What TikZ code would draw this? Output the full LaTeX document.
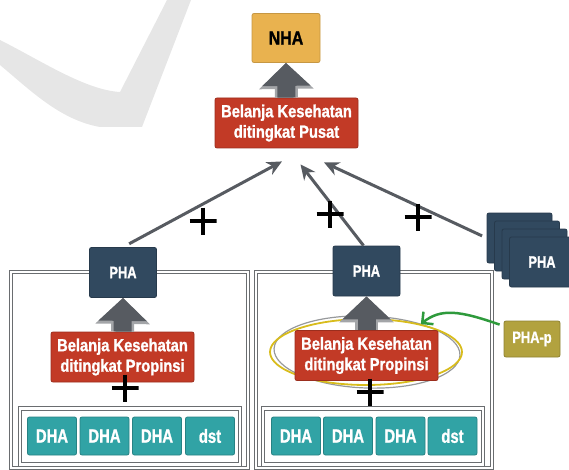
\documentclass[tikz,border=0pt]{standalone}
\usepackage{fontspec}
\setmainfont{Liberation Sans}
\newfontfamily\cond[FakeStretch=0.78, FakeBold=1.2]{Liberation Sans Bold}
\newfontfamily\condw[FakeStretch=0.84, FakeBold=1.2]{Liberation Sans Bold}
\usetikzlibrary{arrows.meta,calc,shapes.geometric}
\definecolor{nhaC}{HTML}{E9B24F}
\definecolor{redC}{HTML}{C23A26}
\definecolor{navyC}{HTML}{31495F}
\definecolor{tealC}{HTML}{31A3A5}
\definecolor{oliveC}{HTML}{B2A23F}
\definecolor{arrC}{HTML}{575B61}
\definecolor{lineC}{HTML}{6A6D70}
\definecolor{greenC}{HTML}{2E9A3C}
\definecolor{yelC}{HTML}{D8BC1C}
\definecolor{wmC}{HTML}{E6E6E6}
\tikzset{
  box/.style={rounded corners=2, inner sep=0, align=center, text=white,
    font=\cond\fontsize{16.5}{19.5}\selectfont, line width=0.8},
  nhabox/.style={box, fill=nhaC, draw=nhaC!85!black, text=black, minimum width=68, minimum height=49,
    font=\condw\fontsize{19}{21}\selectfont},
  redbox/.style={box, fill=redC, draw=redC!80!black, minimum width=143, minimum height=50,
    font=\condw\fontsize{17.5}{20.5}\selectfont},
  phabox/.style={box, fill=navyC, draw=navyC!80!black, minimum width=67, minimum height=50},
  dhabox/.style={box, fill=tealC, draw=tealC!80!black, minimum width=49, minimum height=38,
    font=\cond\fontsize{19}{21}\selectfont},
  phapbox/.style={box, fill=oliveC, draw=oliveC!80!black, minimum width=56, minimum height=36},
  cont/.style={draw=lineC, double=white, double distance=2.5, line width=1.1, inner sep=0},
  conn/.style={draw=arrC, line width=3, -{Stealth[length=15,width=14]}},
  blockback/.style={draw=arrC!55, line width=23, -{Triangle[width=53,length=26]}},
  blockarr/.style={draw=arrC, line width=18, -{Triangle[width=47,length=23]}},
  plusmark/.style={minimum size=27, inner sep=0, path picture={
    \draw[line width=4] (path picture bounding box.north) -- (path picture bounding box.south)
      (path picture bounding box.west) -- (path picture bounding box.east);}},
}
\begin{document}
\begin{tikzpicture}[x=1pt,y=-1pt]
\useasboundingbox (0,0) rectangle (569,470);
% watermark
\fill[wmC] (0,40) .. controls (40,60) and (85,90) .. (120,92) -- (167,0) -- (191,0) -- (142,127)
  -- (100,127) .. controls (60,120) and (30,90) .. (0,65) -- cycle;
% containers
\node[cont, minimum width=237, minimum height=196] (contL) at (129.5,370) {};
\node[cont, minimum width=236, minimum height=196] (contR) at (374,370) {};
\node[cont, fill=white, minimum width=220, minimum height=56] (barL) at (130,436.5) {};
\node[cont, fill=white, minimum width=220, minimum height=56] (barR) at (373,436.5) {};
% DHA boxes
\node[dhabox] (dL1) at (52,436) {DHA};
\node[dhabox] (dL2) at (104.5,436) {DHA};
\node[dhabox] (dL3) at (157,436) {DHA};
\node[dhabox] (dL4) at (210,436) {dst};
\node[dhabox] (dR1) at (296,436) {DHA};
\node[dhabox] (dR2) at (348,436) {DHA};
\node[dhabox] (dR3) at (400.5,436) {DHA};
\node[dhabox] (dR4) at (452.5,436) {dst};
% ellipse highlight
\node[ellipse, draw=lineC!70, line width=1.2, minimum width=186, minimum height=72, rotate=-2] (ell2) at (367,352) {};
\node[ellipse, draw=yelC, line width=1.8, minimum width=192, minimum height=66] (ell) at (366,352) {};
% main boxes
\node[nhabox] (nha) at (286,38) {NHA};
\node[redbox] (pusat) at (286.5,123) {Belanja Kesehatan\\ditingkat Pusat};
\node[phabox] (phaL) at (123,272.5) {PHA};
\node[phabox] (phaR) at (366.5,271) {PHA};
\node[redbox] (propL) at (122.5,357) {Belanja Kesehatan\\ditingkat Propinsi};
\node[redbox] (propR) at (366.5,355.5) {Belanja Kesehatan\\ditingkat Propinsi};
% stacked PHA
\node[phabox, minimum width=65] (stk1) at (519.5,238) {};
\node[phabox, minimum width=65] (stk2) at (527,246) {};
\node[phabox, minimum width=65] (stk3) at (534.5,254) {};
\node[phabox, minimum width=65] (stk4) at (542,262) {PHA};
\node[phapbox] (phap) at (532,339) {PHA-p};
% block arrows
\draw[blockback] (pusat.north) -- (nha.south);
\draw[blockarr] (pusat.north) -- (nha.south);
\draw[blockback] (propL.north) -- (phaL.south);
\draw[blockarr] (propL.north) -- (phaL.south);
\draw[blockback] (propR.north) -- (phaR.south);
\draw[blockarr] (propR.north) -- (phaR.south);
% connectors to Pusat
\draw[conn, shorten <=7] (phaL.north) -- ($(pusat.south)+(-4.5,13)$);
\draw[conn] ($(phaR.north)+(-3,0)$) -- ($(pusat.south)+(14,16)$);
\draw[conn, shorten <=5] (stk1.west) -- ($(pusat.south)+(37.5,14)$);
% green arrow
\draw[greenC, line width=2.5, -{Straight Barb[length=8,width=16]}]
  ($(phap.north west)+(-4,4)$) .. controls +(-40,-14) and +(20,-16) .. (ell.27);
% plus marks
\node[plusmark] (p1) at (203,221) {};
\node[plusmark] (p2) at (330,214) {};
\node[plusmark] (p3) at (418,217) {};
\node[plusmark] (p4) at (125,388) {};
\node[plusmark] (p5) at (370,392) {};
\end{tikzpicture}
\end{document}
